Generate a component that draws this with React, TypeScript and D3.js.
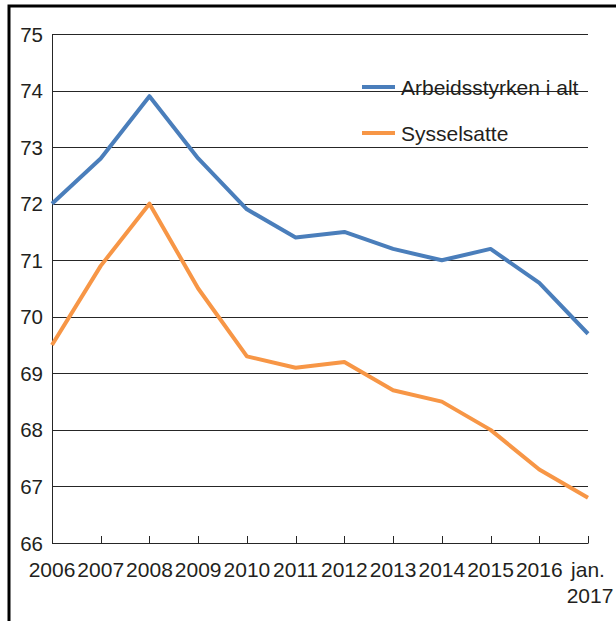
import React from "react";
import * as d3 from "d3";

const categories = ["2006", "2007", "2008", "2009", "2010", "2011", "2012", "2013", "2014", "2015", "2016", "jan. 2017"];
const arbeidsstyrken = [72.0, 72.8, 73.9, 72.8, 71.9, 71.4, 71.5, 71.2, 71.0, 71.2, 70.6, 69.7];
const sysselsatte = [69.5, 70.9, 72.0, 70.5, 69.3, 69.1, 69.2, 68.7, 68.5, 68.0, 67.3, 66.8];
const yTicks = [66, 67, 68, 69, 70, 71, 72, 73, 74, 75];
const seriesNames = ["Arbeidsstyrken i alt", "Sysselsatte"];
const seriesColors = ["#4a7ebb", "#f79646"];

const W = 616;
const H = 621;
const left = 52;
const right = 588;
const top = 34;
const bottom = 543;
const FONT = "'Liberation Sans', Arial, sans-serif";
const TEXT = "#231f20";

export default function App() {
  const x = d3.scalePoint<string>().domain(categories).range([left, right]);
  const y = d3.scaleLinear().domain([66, 75]).range([bottom, top]);
  const line = d3
    .line<number>()
    .x((_, i) => x(categories[i]) as number)
    .y((d) => y(d));
  const series = [arbeidsstyrken, sysselsatte];

  return (
    <svg
      width={W}
      height={H}
      style={{ position: "absolute", left: 0, top: 0, background: "#fff" }}
      fontFamily={FONT}
    >
      {/* frame */}
      <path d={`M9,${H + 5} L9,6 L${W + 5},6`} fill="none" stroke="#000" strokeWidth={3} />
      {/* gridlines */}
      {yTicks.map((t) => (
        <line
          key={"g" + t}
          x1={left}
          x2={right}
          y1={Math.round(y(t)) + 0.5}
          y2={Math.round(y(t)) + 0.5}
          stroke="#262626"
          strokeWidth={1}
        />
      ))}
      {/* y axis line */}
      <line x1={left + 0.5} x2={left + 0.5} y1={top} y2={bottom + 0.5} stroke="#262626" strokeWidth={1} />
      {/* x ticks */}
      {categories.map((c) => (
        <line
          key={"t" + c}
          x1={Math.round(x(c) as number) + 0.5}
          x2={Math.round(x(c) as number) + 0.5}
          y1={bottom - 7}
          y2={bottom + 0.5}
          stroke="#262626"
          strokeWidth={1}
        />
      ))}
      {/* y labels */}
      {yTicks.map((t) => (
        <text
          key={"yl" + t}
          x={43}
          y={y(t) + 7.5}
          textAnchor="end"
          fontSize={20.5}
          fill={TEXT}
        >
          {t}
        </text>
      ))}
      {/* x labels */}
      {categories.map((c) => {
        const parts = c.split(" ");
        return (
          <text key={"xl" + c} x={x(c) as number} y={577} textAnchor="middle" fontSize={21} fill={TEXT}>
            {parts.map((p, i) => (
              <tspan key={i} x={(x(c) as number) + (i > 0 ? 2 : 0)} dy={i === 0 ? 0 : 26}>
                {p}
              </tspan>
            ))}
          </text>
        );
      })}
      {/* lines */}
      {series.map((s, i) => (
        <path
          key={"s" + i}
          d={line(s) as string}
          fill="none"
          stroke={seriesColors[i]}
          strokeWidth={4}
          strokeLinejoin="round"
        />
      ))}
      {/* legend */}
      {seriesNames.map((n, i) => (
        <g key={"lg" + i} transform={`translate(0, ${87 + i * 46})`}>
          <line x1={362} x2={395} y1={0} y2={0} stroke={seriesColors[i]} strokeWidth={4} />
          <text x={401} y={7.5} fontSize={21} fill={TEXT}>
            {n}
          </text>
        </g>
      ))}
    </svg>
  );
}
